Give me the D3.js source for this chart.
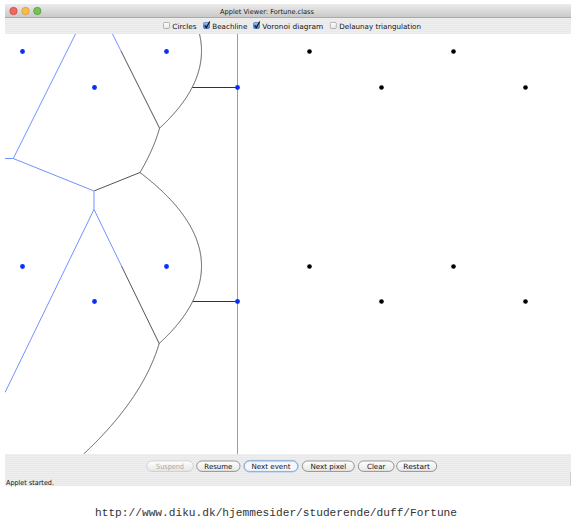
<!DOCTYPE html>
<html><head><meta charset="utf-8">
<script src="https://cdn.jsdelivr.net/npm/d3@7"></script>
<style>html,body{margin:0;padding:0;background:#fff;}svg{display:block}</style>
</head><body>
<svg id="c" width="571" height="524"></svg>
<script>
// ---------- data (applet canvas coordinates) ----------
const processedX = [17, 89, 161, 17, 89, 161];
const processedY = [17, 53, 17, 232, 267, 232];
const sweepSiteX = [232, 232];
const sweepSiteY = [53, 267];
const pendingX = [304, 376, 448, 520, 304, 376, 448, 520];
const pendingY = [17, 53, 17, 53, 232, 267, 232, 267];
const sweepPos = 232;
// edges still being traced: site pairs, and how each edge started
const activeA = [1, 1, 4];
const activeB = [2, 5, 5];
const activeStartKind = ["site", "vertex", "site"];
const activeStartRef = [2, 3, 5];
// UI texts
const titleText = "Applet Viewer: Fortune.class";
const checkLabels = ["Circles", "Beachline", "Voronoi diagram", "Delaunay triangulation"];
const checkStates = [false, true, true, false];
const buttonLabels = ["Suspend", "Resume", "Next event", "Next pixel", "Clear", "Restart"];
const statusText = "Applet started.";
const urlText = "http://www.diku.dk/hjemmesider/studerende/duff/Fortune";

// ---------- layout ----------
const W = 566, H = 420;
const x = d3.scaleLinear().domain([0, W]).range([5, 571]);
const y = d3.scaleLinear().domain([0, H]).range([34, 454]);
const checkLayout = [[163.5, 172.3, 24.4], [203.5, 212.3, 35], [253.5, 262.3, 61], [330.3, 339.3, 81.7]];
const buttonLayout = [[146.7, 193.3, 28], [196.7, 240, 28], [244.3, 297.7, 39], [302.3, 354.3, 35.7], [358.3, 394, 18.3], [396.7, 436.7, 26.7]];
const FONT = "'DejaVu Sans', Verdana, sans-serif";

const svg = d3.select("#c");
const defs = svg.append("defs");

const tg = defs.append("linearGradient").attr("id", "tbar").attr("x1", 0).attr("y1", 0).attr("x2", 0).attr("y2", 1);
tg.append("stop").attr("offset", 0).attr("stop-color", "#ececec");
tg.append("stop").attr("offset", 1).attr("stop-color", "#c9c9c9");
const pat = defs.append("pattern").attr("id", "stripe").attr("width", 4).attr("height", 2).attr("patternUnits", "userSpaceOnUse");
pat.append("rect").attr("width", 4).attr("height", 2).attr("fill", "#eeeeee");
pat.append("rect").attr("y", 1).attr("width", 4).attr("height", 1).attr("fill", "#e9e9e9");
const bg = defs.append("linearGradient").attr("id", "btn").attr("x1", 0).attr("y1", 0).attr("x2", 0).attr("y2", 1);
bg.append("stop").attr("offset", 0).attr("stop-color", "#ffffff");
bg.append("stop").attr("offset", 1).attr("stop-color", "#e6e6e6");
const cg = defs.append("linearGradient").attr("id", "chk").attr("x1", 0).attr("y1", 0).attr("x2", 0).attr("y2", 1);
cg.append("stop").attr("offset", 0).attr("stop-color", "#9cc0f2");
cg.append("stop").attr("offset", 1).attr("stop-color", "#3d78d8");

// ---------- window chrome ----------
svg.append("rect").attr("x", 5).attr("y", 4).attr("width", 566).attr("height", 13).attr("fill", "url(#tbar)");
svg.append("line").attr("x1", 5).attr("x2", 571).attr("y1", 17.5).attr("y2", 17.5).attr("stroke", "#a9a9a9");
const lights = [["#ee6a5f", "#c9463d", 13.5], ["#f5bd4f", "#d49a2a", 25.5], ["#72c456", "#4c9a35", 37.3]];
lights.forEach(l => svg.append("circle").attr("cx", l[2]).attr("cy", 11).attr("r", 3.7)
  .attr("fill", l[0]).attr("stroke", l[1]).attr("stroke-width", 0.7));
svg.append("text").attr("x", 267).attr("y", 13.8).attr("text-anchor", "middle")
  .attr("font-family", FONT).attr("font-size", 6.8).attr("fill", "#1a1a1a")
  .attr("textLength", 94).attr("lengthAdjust", "spacingAndGlyphs").text(titleText);

svg.append("rect").attr("x", 5).attr("y", 18).attr("width", 566).attr("height", 16).attr("fill", "url(#stripe)");
checkLabels.forEach((lab, i) => {
  const [bx, tx, tw] = checkLayout[i];
  svg.append("rect").attr("x", bx).attr("y", 22.5).attr("width", 6).attr("height", 6).attr("rx", 1)
    .attr("fill", checkStates[i] ? "url(#chk)" : "url(#btn)")
    .attr("stroke", checkStates[i] ? "#3a63a8" : "#8c8c8c").attr("stroke-width", 0.6);
  if (checkStates[i]) {
    svg.append("path").attr("d", `M${bx + 1.2},${25.2} L${bx + 2.8},${27.6} L${bx + 6.3},${21.4}`)
      .attr("fill", "none").attr("stroke", "#111").attr("stroke-width", 1.1);
  }
  svg.append("text").attr("x", tx).attr("y", 28.6).attr("font-family", FONT).attr("font-size", 7.2)
    .attr("fill", "#111").attr("textLength", tw).attr("lengthAdjust", "spacingAndGlyphs").text(lab);
});

// ---------- canvas ----------
svg.append("rect").attr("x", x(0)).attr("y", y(0)).attr("width", x(W) - x(0)).attr("height", y(H) - y(0)).attr("fill", "#fff");
defs.append("clipPath").attr("id", "canvasClip").append("rect")
  .attr("x", x(0)).attr("y", y(0)).attr("width", x(W) - x(0)).attr("height", y(H) - y(0));

const L = sweepPos;
function parab(i, yy) {
  const sx = processedX[i], sy = processedY[i], p = L - sx;
  return (L + sx) / 2 - (yy - sy) * (yy - sy) / (2 * p);
}
function beach(yy) {
  return d3.max(processedX.map((_, i) => parab(i, yy)));
}
function breakpoint(a, b) {
  const ax = processedX[a], ay = processedY[a], bx = processedX[b], by = processedY[b];
  const pa = L - ax, pb = L - bx;
  const A = pa - pb, B = -2 * (pa * by - pb * ay), C = pa * by * by - pb * ay * ay + pa * pb * (ax - bx);
  let roots;
  if (Math.abs(A) < 1e-9) roots = [-C / B];
  else { const d = Math.sqrt(B * B - 4 * A * C); roots = [(-B - d) / (2 * A), (-B + d) / (2 * A)]; }
  const ok = roots.filter(r => r >= 0 && r <= H && Math.abs(beach(r) - parab(a, r)) < 1e-6);
  const r = ok.length ? ok[0] : roots[0];
  return [parab(a, r), r];
}
function circumcenter(i, j, k) {
  const ax = processedX[i], ay = processedY[i], bx = processedX[j], by = processedY[j], cx = processedX[k], cy = processedY[k];
  const d = 2 * (ax * (by - cy) + bx * (cy - ay) + cx * (ay - by));
  const ux = ((ax * ax + ay * ay) * (by - cy) + (bx * bx + by * by) * (cy - ay) + (cx * cx + cy * cy) * (ay - by)) / d;
  const uy = ((ax * ax + ay * ay) * (cx - bx) + (bx * bx + by * by) * (ax - cx) + (cx * cx + cy * cy) * (bx - ax)) / d;
  return [ux, uy];
}
function siteEventStart(ev, arc) {
  const Le = processedX[ev], sy = processedY[ev], rx = processedX[arc], ry = processedY[arc];
  return [(Le + rx) / 2 - (sy - ry) * (sy - ry) / (2 * (Le - rx)), sy];
}

const beachPts = d3.range(0, H + 0.001, 0.5).map(v => [beach(v), v]);

// region behind the beachline (finished part of the diagram)
const region = [[0, 0]].concat(beachPts, [[0, H]]);
defs.append("clipPath").attr("id", "doneClip").append("path")
  .attr("d", d3.line().x(d => x(d[0])).y(d => y(d[1]))(region) + "Z");

const plot = svg.append("g").attr("clip-path", "url(#canvasClip)");

// finished Voronoi edges
const vor = d3.Delaunay.from(processedX.map((v, i) => [v, processedY[i]])).voronoi([0, 0, W, H]);
const vp = d3.path();
vor.render({
  moveTo: (a, b) => vp.moveTo(x(a), y(b)),
  lineTo: (a, b) => vp.lineTo(x(a), y(b)),
  closePath: () => vp.closePath()
});
plot.append("g").attr("clip-path", "url(#doneClip)").append("path").attr("d", vp.toString())
  .attr("fill", "none").attr("stroke", "#7391ff").attr("stroke-width", 1);

// edges in progress
const edgeCol = "#555";
activeA.forEach((a, i) => {
  const b = activeB[i];
  const s = activeStartKind[i] === "site"
    ? siteEventStart(activeStartRef[i], activeStartRef[i] === a ? b : a)
    : circumcenter(a, b, activeStartRef[i]);
  const e = breakpoint(a, b);
  plot.append("line").attr("x1", x(s[0])).attr("y1", y(s[1])).attr("x2", x(e[0])).attr("y2", y(e[1]))
    .attr("stroke", "#fff").attr("stroke-width", 2);
  plot.append("line").attr("x1", x(s[0])).attr("y1", y(s[1])).attr("x2", x(e[0])).attr("y2", y(e[1]))
    .attr("stroke", edgeCol).attr("stroke-width", 1);
});

// beachline
plot.append("path").attr("d", d3.line().x(d => x(d[0])).y(d => y(d[1]))(beachPts))
  .attr("fill", "none").attr("stroke", edgeCol).attr("stroke-width", 1);
// degenerate arcs of sites on the sweep line
sweepSiteX.forEach((sx, i) => {
  const sy = sweepSiteY[i];
  plot.append("line").attr("x1", x(beach(sy))).attr("y1", y(sy) + 0.5).attr("x2", x(sx)).attr("y2", y(sy) + 0.5)
    .attr("stroke", "#333").attr("stroke-width", 1);
});

// sweep line
plot.append("line").attr("x1", x(L) + 0.5).attr("x2", x(L) + 0.5).attr("y1", y(0)).attr("y2", y(H))
  .attr("stroke", "#f07c6c").attr("stroke-width", 1);

// sites
const blue = "#0a2dff";
plot.selectAll(".ps").data(processedX.map((v, i) => [v, processedY[i]]).concat(sweepSiteX.map((v, i) => [v, sweepSiteY[i]])))
  .join("circle").attr("cx", d => x(d[0]) + 0.5).attr("cy", d => y(d[1]) + 0.5).attr("r", 2.4).attr("fill", blue);
plot.selectAll(".qs").data(pendingX.map((v, i) => [v, pendingY[i]]))
  .join("circle").attr("class", "qs").attr("cx", d => x(d[0]) + 0.5).attr("cy", d => y(d[1]) + 0.5).attr("r", 2.3).attr("fill", "#000");

// ---------- bottom bar ----------
svg.append("rect").attr("x", 5).attr("y", 454).attr("width", 566).attr("height", 32).attr("fill", "url(#stripe)");
svg.append("line").attr("x1", 570.5).attr("x2", 570.5).attr("y1", 472).attr("y2", 486).attr("stroke", "#cfcfcf");
buttonLabels.forEach((lab, i) => {
  const [bx0, bx1, tw] = buttonLayout[i];
  const disabled = i === 0, def = i === 2;
  if (def) {
    svg.append("rect").attr("x", bx0 - 0.6).attr("y", 460.4).attr("width", bx1 - bx0 + 1.2).attr("height", 11.6).attr("rx", 5.8)
      .attr("fill", "none").attr("stroke", "#a9c6ee").attr("stroke-width", 1);
  }
  svg.append("rect").attr("x", bx0).attr("y", 461).attr("width", bx1 - bx0).attr("height", 10.4).attr("rx", 5.2)
    .attr("fill", def ? "#f4f8fd" : "url(#btn)")
    .attr("stroke", disabled ? "#c4c4c4" : (def ? "#6d8fc0" : "#6e6e6e")).attr("stroke-width", 0.7);
  svg.append("text").attr("x", (bx0 + bx1) / 2).attr("y", 469).attr("text-anchor", "middle")
    .attr("font-family", FONT).attr("font-size", 7.2).attr("fill", disabled ? "#a8a8a8" : "#111")
    .attr("textLength", tw).attr("lengthAdjust", "spacingAndGlyphs").text(lab);
});
svg.append("text").attr("x", 6).attr("y", 484.6).attr("font-family", FONT).attr("font-size", 6.8)
  .attr("fill", "#111").attr("textLength", 48).attr("lengthAdjust", "spacingAndGlyphs").text(statusText);

// ---------- caption ----------
svg.append("text").attr("x", 95).attr("y", 515.6).attr("font-family", "'Liberation Mono', 'DejaVu Sans Mono', monospace")
  .attr("font-size", 11.2).attr("fill", "#333").attr("textLength", 362).attr("lengthAdjust", "spacingAndGlyphs").text(urlText);
</script>
</body></html>
